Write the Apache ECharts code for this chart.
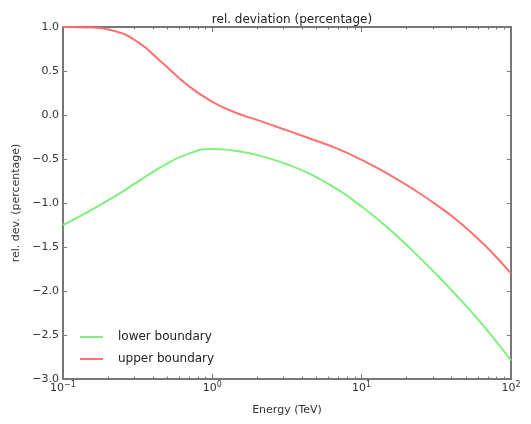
<!DOCTYPE html>
<html>
<head>
<meta charset="utf-8">
<script src="https://cdn.jsdelivr.net/npm/echarts@6/dist/echarts.min.js"></script>
<style>html,body{margin:0;padding:0;background:#fff;}#c{width:531px;height:424px;}</style>
</head>
<body>
<div id="c"></div>
<script>
// Energy (TeV) sample points (6 per decade)
const energy = [0.1, 0.147, 0.215, 0.316, 0.464, 0.681, 1, 1.468, 2.154, 3.162, 4.642, 6.813, 10, 14.68, 21.54, 31.62, 46.42, 68.13, 100];
const lowerBoundary = [-1.25, -1.10, -0.94, -0.76, -0.58, -0.445, -0.385, -0.41, -0.47, -0.56, -0.68, -0.84, -1.04, -1.27, -1.53, -1.81, -2.11, -2.43, -2.79];
const upperBoundary = [1.00, 0.995, 0.96, 0.83, 0.59, 0.34, 0.15, 0.02, -0.075, -0.175, -0.275, -0.38, -0.51, -0.66, -0.83, -1.02, -1.235, -1.495, -1.80];
const majorTicksX = [0.1, 1, 10, 100];
const minorTicksX = [0.2,0.3,0.4,0.5,0.6,0.7,0.8,0.9,2,3,4,5,6,7,8,9,20,30,40,50,60,70,80,90];
const seriesNames = ['lower boundary', 'upper boundary'];
const titleText = 'rel. deviation (percentage)';
const xLabel = 'Energy (TeV)';
const yLabel = 'rel. dev. (percentage)';

const FONT = 'DejaVu Sans';
const frameColor = '#777';
const textColor = '#333';

function pairs(xs, ys){ return xs.map((x,i)=>[x, ys[i]]); }
function expLabel(v){
  const e = Math.round(Math.log10(v));
  return '{b|10}{s|' + String(e).replace('-', '\u2212') + '}';
}
const richX = {
  b: {fontSize: 11, fontFamily: FONT, color: textColor, lineHeight: 14},
  s: {fontSize: 8, fontFamily: FONT, color: textColor, verticalAlign: 'top', lineHeight: 8}
};

function xAxisDef(pos, ticks, len, labels){
  return {
    type: 'log', logBase: 10, min: 0.1, max: 100, position: pos, gridIndex: 0,
    axisLine: {show: true, onZero: false, lineStyle: {color: frameColor, width: 2}},
    axisTick: {show: true, inside: true, length: len, customValues: ticks, lineStyle: {color: frameColor, width: 1}},
    axisLabel: labels ? {show: true, customValues: majorTicksX, formatter: expLabel, rich: richX, margin: 2, color: textColor} : {show: false},
    splitLine: {show: false},
    minorTick: {show: false}
  };
}
function yAxisDef(pos, labels){
  return {
    type: 'value', min: -3, max: 1, interval: 0.5, position: pos, gridIndex: 0,
    axisLine: {show: true, onZero: false, lineStyle: {color: frameColor, width: 2}},
    axisTick: {show: true, inside: true, length: 4, lineStyle: {color: frameColor, width: 1}},
    axisLabel: labels ? {show: true, fontFamily: FONT, fontSize: 11, color: textColor, margin: 4,
      formatter: v => v.toFixed(1).replace('-', '\u2212')} : {show: false},
    splitLine: {show: false}
  };
}

const chart = echarts.init(document.getElementById('c'), null, {renderer: 'canvas'});
chart.setOption({
  animation: false,
  backgroundColor: '#fff',
  title: {text: titleText, left: 287, top: 9, textAlign: 'center',
    textStyle: {fontFamily: FONT, fontSize: 12, fontWeight: 'normal', color: '#222'}},
  grid: {left: 63, right: 20, top: 27, bottom: 45, containLabel: false},
  legend: {
    data: seriesNames, orient: 'vertical', left: 80, top: 331, itemGap: 10, padding: 0,
    itemWidth: 23, itemHeight: 2, icon: 'rect',
    textStyle: {fontFamily: FONT, fontSize: 12, color: '#222', padding: [0,0,0,10]}
  },
  xAxis: [
    Object.assign(xAxisDef('bottom', majorTicksX, 5, true), {name: xLabel, nameLocation: 'middle', nameGap: 26,
      nameTextStyle: {fontFamily: FONT, fontSize: 11, color: textColor}}),
    xAxisDef('bottom', minorTicksX, 2.5, false),
    xAxisDef('top', majorTicksX, 5, false),
    xAxisDef('top', minorTicksX, 2.5, false)
  ],
  yAxis: [
    Object.assign(yAxisDef('left', true), {name: yLabel, nameLocation: 'middle', nameGap: 38, nameRotate: 90,
      nameTextStyle: {fontFamily: FONT, fontSize: 11, color: textColor}}),
    yAxisDef('right', false)
  ],
  series: [
    {name: seriesNames[0], type: 'line', xAxisIndex: 0, yAxisIndex: 0, data: pairs(energy, lowerBoundary),
      smooth: 0.5, showSymbol: false, symbol: 'none', color: '#7ff07f', lineStyle: {width: 2, color: '#7ff07f'}},
    {name: seriesNames[1], type: 'line', xAxisIndex: 0, yAxisIndex: 0, data: pairs(energy, upperBoundary),
      smooth: 0.5, showSymbol: false, symbol: 'none', color: '#ff7070', lineStyle: {width: 2, color: '#ff7070'}}
  ]
});
</script>
</body>
</html>
